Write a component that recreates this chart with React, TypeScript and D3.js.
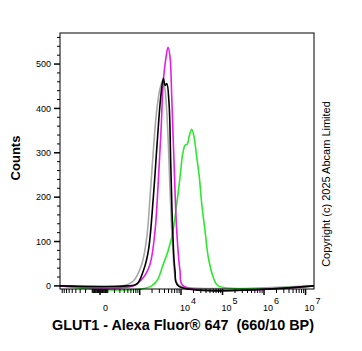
import React, { useEffect, useRef } from 'react';
import * as d3 from 'd3';

// fluorescence (channel value) vs counts
const isotypeX = [370, 692, 1122, 1486, 1787, 2149, 2598, 3121, 3629, 4124, 4789, 5441, 6315, 7594, 9475];
const isotypeY = [0, 11, 49, 109, 200, 305, 396, 445, 463, 441, 350, 215, 87, 11, 0];

const unstainedX = [467, 843, 1228, 1626, 2149, 2686, 3246, 3750, 4124, 4532, 5148, 5658, 6315, 7177, 8624];
const unstainedY = [0, 4, 34, 79, 200, 328, 426, 468, 452, 456, 411, 275, 124, 34, 0];

const controlX = [681, 1228, 1787, 2361, 2838, 3300, 3750, 4359, 4865, 5441, 5979, 6798, 7894, 9475, 11380];
const controlY = [0, 19, 49, 124, 237, 350, 463, 516, 538, 516, 426, 276, 124, 34, 0];

const glut1X = [1965, 3750, 5979, 7894, 9475, 11010, 12520, 14210, 15880, 18140, 20610, 23950, 27660, 31600, 37940, 45560, 60170, 79370];
const glut1Y = [0, 49, 109, 185, 245, 298, 317, 320, 339, 353, 336, 290, 245, 185, 124, 64, 19, 0];

const xMajor = [0, 1e3, 1e4, 1e5, 1e6, 1e7];
const xLabels = [
  { v: 0, base: '0', sup: '' },
  { v: 1e4, base: '10', sup: '4' },
  { v: 1e5, base: '10', sup: '5' },
  { v: 1e6, base: '10', sup: '6' },
  { v: 1e7, base: '10', sup: '7' },
];
const yMajor = [0, 100, 200, 300, 400, 500];

const X_MIN = -1020;
const X_MAX = 1.6e7;
const W = 224; // linear width of the biexponential scale

const App = () => {
  const svgRef = useRef<SVGSVGElement>(null);

  useEffect(() => {
    const svg = d3.select(svgRef.current);
    svg.selectAll('*').remove();

    const left = 60, right = 314, top = 33, bottom = 289;
    const font = '"Liberation Sans", Arial, sans-serif';

    const tx = (v: number) => Math.asinh(v / W) / Math.LN10;
    const lin = d3.scaleLinear().domain([tx(X_MIN), tx(X_MAX)]).range([left, right]);
    const x = (v: number) => lin(tx(v));
    const y = d3.scaleLinear().domain([-7, 570]).range([bottom, top]);

    // minor ticks on x
    const xMinor: number[] = [];
    for (let i = 1; i <= 9; i++) { xMinor.push(-i * 100); xMinor.push(-i * 10); xMinor.push(i * 10); xMinor.push(i * 100); }
    [1e3, 1e4, 1e5, 1e6].forEach(d => { for (let i = 2; i <= 9; i++) xMinor.push(i * d); });

    const series = [
      { xs: isotypeX, ys: isotypeY, color: '#a8a8a8' },
      { xs: glut1X, ys: glut1Y, color: '#2ee82e' },
      { xs: controlX, ys: controlY, color: '#e61ee6' },
      { xs: unstainedX, ys: unstainedY, color: '#000000' },
    ];

    const line = d3.line<[number, number]>()
      .x(d => x(d[0]))
      .y(d => Math.min(y(d[1]), y(0)))
      .curve(d3.curveCatmullRom.alpha(0.5));

    const plot = svg.append('g');
    series.forEach(s => {
      const pts: [number, number][] = [[X_MIN, 0]];
      s.xs.forEach((v, i) => pts.push([v, s.ys[i]]));
      pts.push([X_MAX, 0]);
      plot.append('path')
        .attr('d', line(pts))
        .attr('fill', 'none')
        .attr('stroke', s.color)
        .attr('stroke-width', 1.6)
        .attr('stroke-linejoin', 'round');
    });

    // frame
    svg.append('rect')
      .attr('x', left).attr('y', top)
      .attr('width', right - left).attr('height', bottom - top)
      .attr('fill', 'none').attr('stroke', '#000').attr('stroke-width', 1);

    // x ticks
    const xa = svg.append('g');
    xMinor.forEach(v => {
      xa.append('line').attr('x1', x(v)).attr('x2', x(v)).attr('y1', bottom).attr('y2', bottom + 4)
        .attr('stroke', '#000').attr('stroke-width', 1);
    });
    xMajor.forEach(v => {
      xa.append('line').attr('x1', x(v)).attr('x2', x(v)).attr('y1', bottom).attr('y2', bottom + 6)
        .attr('stroke', '#000').attr('stroke-width', 1.5);
    });
    xLabels.forEach(l => {
      const t = xa.append('text')
        .attr('x', x(l.v) + (l.sup ? -1 : 3))
        .attr('y', 311)
        .style('font-family', font)
        .style('font-size', '9px');
      t.append('tspan').text(l.base);
      if (l.sup) t.append('tspan').attr('dy', -7).attr('dx', 1).text(l.sup);
    });

    // y ticks
    const ya = svg.append('g');
    d3.range(0, 570, 20).forEach(v => {
      const major = v % 100 === 0;
      ya.append('line').attr('x1', left - (major ? 6 : 3)).attr('x2', left)
        .attr('y1', y(v)).attr('y2', y(v))
        .attr('stroke', '#000').attr('stroke-width', major ? 1.5 : 1);
    });
    yMajor.forEach(v => {
      ya.append('text')
        .attr('x', 51).attr('y', y(v)).attr('dy', '0.35em')
        .attr('text-anchor', 'end')
        .style('font-family', font).style('font-size', '9px')
        .text(v);
    });

    // axis titles
    svg.append('text')
      .attr('transform', 'translate(20,158) rotate(-90)')
      .attr('text-anchor', 'middle')
      .style('font-family', font).style('font-size', '13px').style('font-weight', 'bold')
      .text('Counts');

    svg.append('text')
      .attr('x', 183).attr('y', 330)
      .attr('text-anchor', 'middle')
      .style('font-family', font).style('font-size', '14.4px').style('font-weight', 'bold')
      .style('white-space', 'pre')
      .text('GLUT1 - Alexa Fluor® 647  (660/10 BP)');

    svg.append('text')
      .attr('transform', 'translate(330,184) rotate(-90)')
      .attr('text-anchor', 'middle')
      .style('font-family', font).style('font-size', '11px')
      .text('Copyright (c) 2025 Abcam Limited');
  }, []);

  return (
    <div style={{ position: 'absolute', left: 0, top: 0 }}>
      <svg ref={svgRef} width={362} height={351} style={{ display: 'block', background: '#fff' }}></svg>
    </div>
  );
};

export default App;
